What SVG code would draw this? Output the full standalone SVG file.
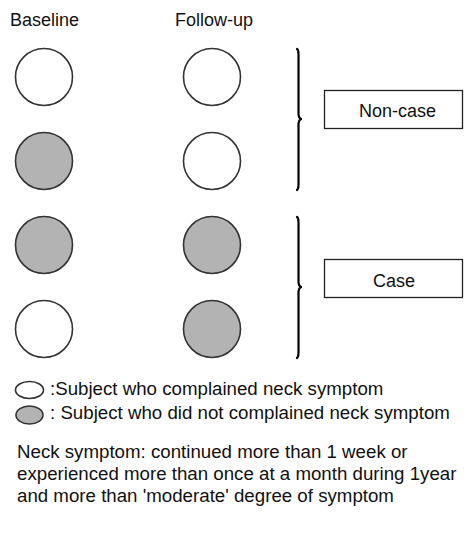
<svg xmlns="http://www.w3.org/2000/svg" width="464" height="539" viewBox="0 0 464 539">
<style>
text{font-family:"Liberation Sans",Arial,sans-serif;font-size:18px;fill:#111}
.l{font-size:18.7px}
.o{fill:#fff;stroke:#333;stroke-width:1.6}
.g{fill:#b3b3b3;stroke:#333;stroke-width:1.6}
.box{fill:#fff;stroke:#222;stroke-width:1.3}
.br{fill:none;stroke:#000;stroke-width:2.2;stroke-linecap:round}
</style>
<rect width="464" height="539" fill="#fff"/>
<g id="headers">
<text x="10" y="26">Baseline</text>
<text x="175" y="26">Follow-up</text>
</g>
<g id="b1"><circle class="o" cx="44" cy="77" r="28.5"/></g>
<g id="f1"><circle class="o" cx="212" cy="77" r="28.5"/></g>
<g id="b2"><circle class="g" cx="44" cy="161" r="28.5"/></g>
<g id="f2"><circle class="o" cx="212" cy="161" r="28.5"/></g>
<g id="b3"><circle class="g" cx="44" cy="245" r="28.5"/></g>
<g id="f3"><circle class="g" cx="212" cy="245" r="28.5"/></g>
<g id="b4"><circle class="o" cx="44" cy="329" r="28.5"/></g>
<g id="f4"><circle class="g" cx="212" cy="329" r="28.5"/></g>
<g id="connectors">
<path class="br" d="M297,49 Q298.5,50 298.5,54 L298.5,114 Q298.8,119 302,119 Q298.8,119 298.5,124 L298.5,185 Q298.5,189 297,190"/>
<path class="br" d="M297,217 Q298.5,218 298.5,222 L298.5,282 Q298.8,287 302,287 Q298.8,287 298.5,292 L298.5,353 Q298.5,357 297,358"/>
</g>
<g id="noncase">
<rect class="box" x="324.5" y="90.5" width="138" height="38"/>
<text x="397.5" y="117" text-anchor="middle">Non-case</text>
</g>
<g id="case">
<rect class="box" x="324.5" y="259.5" width="138" height="38"/>
<text x="394" y="286.5" text-anchor="middle">Case</text>
</g>
<g id="legend">
<ellipse class="o" cx="29.5" cy="390" rx="14" ry="8.5"/>
<text class="l" x="50" y="395">:Subject who complained neck symptom</text>
<ellipse class="g" cx="29.5" cy="415" rx="13.5" ry="9"/>
<text class="l" x="50" y="419">: Subject who did not complained neck symptom</text>
</g>
<g id="note">
<text class="l" x="17" y="458">Neck symptom: continued more than 1 week or</text>
<text class="l" x="17" y="480">experienced more than once at a month during 1year</text>
<text class="l" x="17" y="502">and more than 'moderate' degree of symptom</text>
</g>
</svg>
